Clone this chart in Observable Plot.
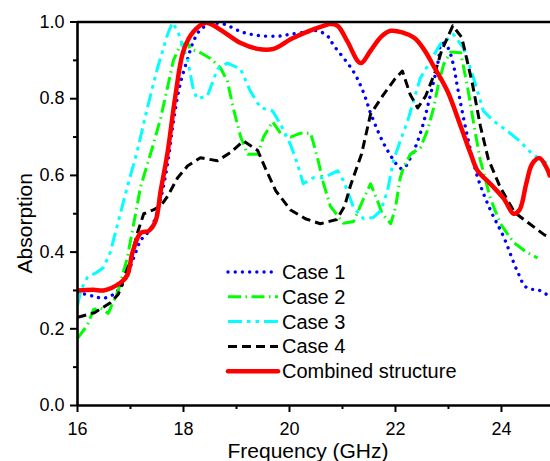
<!DOCTYPE html>
<html><head><meta charset="utf-8">
<script src="https://cdn.jsdelivr.net/npm/d3@7"></script>
<script src="https://cdn.jsdelivr.net/npm/@observablehq/plot@0.6"></script>
<style>
html,body{margin:0;padding:0;background:#fff;}
#wrap{position:relative;width:550px;height:461px;overflow:hidden;background:#fff;}
#wrap svg.legend{position:absolute;left:0;top:0;pointer-events:none;}
</style></head><body><div id="wrap"></div>
<script>
// ---- data (frequency in GHz, absorption) ----
const case1F = [16.0,16.30,16.49,16.68,16.87,17.06,17.19,17.32,17.43,17.57,17.70,17.81,17.94,18.08,18.19,18.32,18.51,18.75,19.08,19.40,19.77,20.02,20.34,20.53,20.72,20.83,21.21,21.40,21.55,21.85,22.13,22.28,22.47,22.66,22.81,22.87,22.98,23.09,23.17,23.36,23.55,23.79,24.04,24.30,24.47,24.72,24.85,24.91];
const case1A = [0.295,0.285,0.28,0.29,0.32,0.385,0.43,0.45,0.475,0.54,0.63,0.74,0.84,0.905,0.95,0.98,0.995,0.995,0.975,0.965,0.963,0.968,0.974,0.977,0.963,0.94,0.87,0.815,0.755,0.665,0.617,0.645,0.71,0.81,0.90,0.945,0.935,0.89,0.83,0.70,0.595,0.51,0.44,0.35,0.308,0.30,0.29,0.29];

const case2F = [16.0,16.19,16.30,16.43,16.58,16.77,16.94,17.06,17.19,17.32,17.43,17.57,17.70,17.81,17.94,18.08,18.13,18.32,18.51,18.70,18.83,18.94,19.08,19.21,19.40,19.51,19.68,19.83,20.02,20.21,20.40,20.53,20.64,20.77,21.02,21.21,21.40,21.53,21.66,21.75,21.91,22.0,22.09,22.15,22.28,22.47,22.60,22.72,22.81,22.91,23.04,23.23,23.36,23.47,23.60,23.79,23.98,24.23,24.47,24.68];
const case2A = [0.175,0.21,0.25,0.255,0.24,0.30,0.385,0.474,0.57,0.63,0.68,0.75,0.83,0.90,0.94,0.945,0.93,0.92,0.905,0.88,0.845,0.775,0.70,0.655,0.655,0.70,0.74,0.71,0.70,0.71,0.71,0.645,0.58,0.52,0.475,0.48,0.54,0.578,0.534,0.50,0.474,0.516,0.594,0.62,0.655,0.672,0.716,0.776,0.838,0.89,0.922,0.92,0.83,0.74,0.64,0.54,0.474,0.425,0.40,0.385];

const case3F = [16.0,16.06,16.19,16.34,16.49,16.62,16.94,17.13,17.32,17.51,17.70,17.79,17.89,18.08,18.19,18.26,18.45,18.64,18.83,19.08,19.26,19.45,19.68,19.83,20.02,20.15,20.26,20.45,20.64,20.91,21.02,21.21,21.40,21.58,21.72,21.85,21.96,22.09,22.23,22.34,22.47,22.66,22.85,22.98,23.09,23.28,23.47,23.66,23.85,24.11,24.34,24.58,24.77,24.91];
const case3A = [0.26,0.30,0.335,0.345,0.36,0.40,0.57,0.665,0.777,0.88,0.968,0.998,0.977,0.90,0.82,0.80,0.807,0.877,0.893,0.877,0.82,0.777,0.768,0.734,0.68,0.63,0.578,0.594,0.594,0.612,0.586,0.516,0.487,0.49,0.508,0.56,0.638,0.69,0.742,0.794,0.854,0.898,0.943,0.955,0.968,0.933,0.855,0.768,0.742,0.716,0.69,0.656,0.638,0.63];

const case4F = [16.0,16.06,16.32,16.62,16.77,17.0,17.13,17.25,17.43,17.57,17.70,17.89,18.08,18.32,18.64,18.89,19.13,19.40,19.55,19.74,20.02,20.30,20.58,20.89,21.04,21.15,21.36,21.53,21.77,21.98,22.13,22.28,22.42,22.57,22.75,22.87,23.08,23.25,23.45,23.60,23.75,23.98,24.25,24.53,24.81,24.91];
const case4A = [0.23,0.232,0.242,0.268,0.29,0.38,0.45,0.50,0.51,0.52,0.546,0.594,0.625,0.646,0.638,0.66,0.69,0.665,0.617,0.56,0.51,0.487,0.474,0.485,0.52,0.573,0.656,0.76,0.81,0.85,0.872,0.81,0.776,0.807,0.87,0.925,0.99,0.96,0.84,0.73,0.643,0.568,0.503,0.474,0.445,0.44];

const combF = [16.0,16.30,16.49,16.81,16.94,17.04,17.19,17.34,17.47,17.57,17.70,17.85,18.0,18.19,18.42,18.51,18.75,19.08,19.40,19.70,20.02,20.34,20.64,20.77,20.91,21.09,21.34,21.53,21.72,21.91,22.34,22.53,22.72,22.98,23.23,23.42,23.55,23.79,24.04,24.23,24.34,24.47,24.58,24.72,24.85,24.91];
const combA = [0.30,0.302,0.30,0.32,0.34,0.40,0.45,0.455,0.48,0.56,0.66,0.81,0.925,0.975,0.998,0.995,0.975,0.945,0.93,0.93,0.955,0.975,0.99,0.995,0.99,0.95,0.893,0.925,0.96,0.977,0.96,0.93,0.885,0.82,0.728,0.656,0.612,0.578,0.54,0.50,0.51,0.58,0.63,0.645,0.62,0.60];

const seriesNames = ["Case 1","Case 2","Case 3","Case 4","Combined structure"];
const xMajor = [16,18,20,22,24];
const xMinor = [17,19,21,23];
const yMajor = [0,0.2,0.4,0.6,0.8,1.0];
const yMinor = [0.1,0.3,0.5,0.7,0.9];

// ---- styles ----
const styles = [
  {stroke:"#0000ff", strokeWidth:3.4, dash:"0.01 7.2", cap:"round", curve:"catmull-rom"},
  {stroke:"#00ff00", strokeWidth:3, dash:"13 4.5 1.5 4.5", cap:"butt", curve:"linear"},
  {stroke:"#00ffff", strokeWidth:3, dash:"14 5 3.5 5 3.5 5", cap:"butt", curve:"linear"},
  {stroke:"#000000", strokeWidth:3, dash:"9 5", cap:"butt", curve:"linear"},
  {stroke:"#ff0000", strokeWidth:4.5, dash:null, cap:"round", curve:"catmull-rom"}
];

const pairs = [[case1F,case1A],[case2F,case2A],[case3F,case3A],[case4F,case4A],[combF,combA]];
const tables = pairs.map(([f,a]) => f.map((v,i) => ({f:v, a:a[i]})));

const lineMarks = tables.map((t,i) => Plot.line(t, {
  x:"f", y:"a", stroke: styles[i].stroke, strokeWidth: styles[i].strokeWidth,
  strokeDasharray: styles[i].dash || undefined, strokeLinecap: styles[i].cap,
  strokeLinejoin: "round", curve: styles[i].curve
}));

const font = "'Liberation Sans', Arial, Helvetica, sans-serif";

const chart = Plot.plot({
  width: 550, height: 461,
  marginLeft: 77, marginRight: 0, marginTop: 21.5, marginBottom: 56,
  x: {domain: [16, 24.925]},
  y: {domain: [0, 1]},
  clip: true,
  style: {fontFamily: font, fontSize: "18px", color: "black", background: "white", overflow: "visible"},
  marks: [
    Plot.axisX({ticks: xMajor, tickSize: 7, tickPadding: 10, tickFormat: d => String(d), label: null, strokeWidth: 2, fontSize: 18}),
    Plot.axisX({ticks: xMinor, tickSize: 4, tickFormat: () => "", label: null, strokeWidth: 2}),
    Plot.axisY({ticks: yMajor, tickSize: 7, tickPadding: 6, tickFormat: d3.format(".1f"), label: null, strokeWidth: 2, fontSize: 18}),
    Plot.axisY({ticks: yMinor, tickSize: 4, tickFormat: () => "", label: null, strokeWidth: 2}),
    ...lineMarks,
    Plot.ruleX([16], {strokeWidth: 2.6, clip: false}),
    Plot.ruleY([0, 1], {strokeWidth: 2.6, clip: false}),
    Plot.text(["Frequency (GHz)"], {frameAnchor: "bottom", textAnchor: "middle", dy: 52, dx: -6, fontSize: 21, clip: false}),
    Plot.text(["Absorption"], {frameAnchor: "left", textAnchor: "middle", rotate: -90, dx: -52, dy: 9.5, fontSize: 21, clip: false})
  ]
});

const wrap = document.getElementById("wrap");
wrap.appendChild(chart);

// ---- legend overlay ----
const leg = d3.create("svg").attr("class","legend").attr("width",550).attr("height",461)
  .style("font-family", font);
const lx0 = 228, lx1 = 278, ltx = 282, ly0 = 272, lstep = 24.8;
seriesNames.forEach((name,i) => {
  const y = ly0 + i*lstep;
  const s = styles[i];
  leg.append("line").attr("x1",lx0).attr("x2",lx1).attr("y1",y).attr("y2",y)
    .attr("stroke",s.stroke).attr("stroke-width",s.strokeWidth)
    .attr("stroke-dasharray", s.dash || null).attr("stroke-linecap", s.cap);
  leg.append("text").attr("x",ltx).attr("y",y).attr("dy","0.35em")
    .attr("font-size",20).attr("fill","black").text(name);
});
wrap.appendChild(leg.node());
</script></body></html>
